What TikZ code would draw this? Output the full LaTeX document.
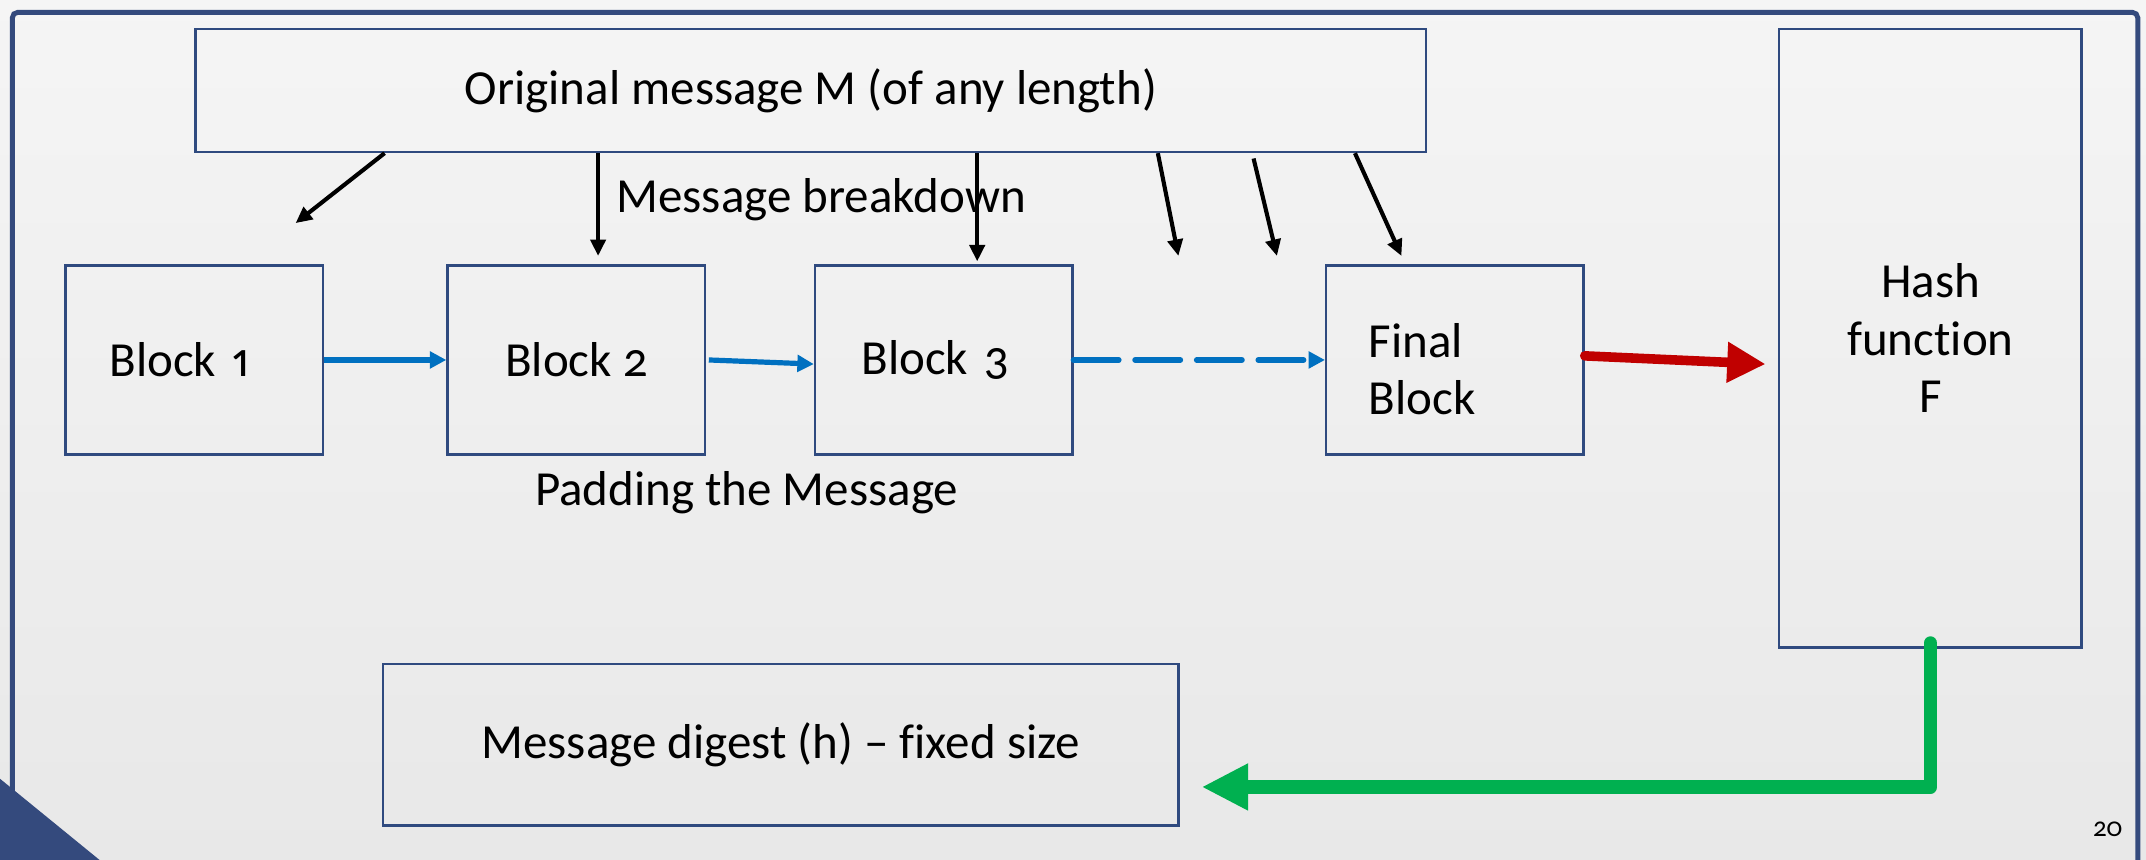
\documentclass[tikz,border=0pt]{standalone}
\usepackage{fontspec}
\setmainfont{Carlito}[Numbers={OldStyle,Proportional},Ligatures=NoCommon]
\usetikzlibrary{arrows.meta}
\definecolor{navy}{RGB}{52,74,125}
\definecolor{boxblue}{RGB}{47,74,127}
\definecolor{flowblue}{RGB}{0,112,192}
\definecolor{hashred}{RGB}{192,0,0}
\definecolor{digestgreen}{RGB}{0,176,80}
\begin{document}
\begin{tikzpicture}[x=0.5pt,y=-0.5pt,
  txt/.style={font=\fontsize{17.9}{21}\selectfont},
  box/.style={txt, draw=boxblue, line width=0.9pt, inner ysep=0pt},
  blk/.style={box, minimum width=94pt, minimum height=69pt},
  brk/.style={black, line width=1.5pt, -{Triangle[length=6pt,width=5.5pt]}},
  flow/.style={flowblue, line width=1.9pt, -{Triangle[length=6pt,width=6pt]}}]
  % page background
  \shade[top color=black!4, bottom color=black!9] (0,0) rectangle (1568,628);
  \useasboundingbox (0,0) rectangle (1568,628);
  % slide frame and corner mark
  \draw[navy, line width=1.8pt, rounded corners=2pt] (9,660) -- (9,9) -- (1562,9) -- (1562,660);
  \fill[navy] (0,569) -- (76,631) -- (0,631) -- cycle;
  \node[font=\fontsize{10}{12}\selectfont] (pg) at (1540,606) {20};

  % boxes
  \node[box, minimum width=449.5pt, minimum height=45pt] (top) at (592.5,66) {Original message M (of any length)};
  \node[blk, text width=62pt, inner xsep=16pt, align=left] (b1) at (142,263) {Block 1};
  \node[blk, inner xsep=0pt] (b2) at (421,263) {Block 2};
  \node[blk, text width=60pt, inner xsep=17pt, align=left] (b3) at (689.5,263) {Block 3};
  \node[blk, text width=63pt, inner xsep=15.5pt, align=left] (fin) at (1063,263) {\rule{0pt}{19pt}Final\\Block};
  \node[box, minimum width=110.5pt, minimum height=226pt, align=center] (hash) at (1410.5,247) {Hash\\function\\F};
  \node[box, minimum width=290.5pt, minimum height=59pt] (digest) at (570.5,544) {Message digest (h) -- fixed size};

  % labels
  \node[txt] (lbreak) at (600,146) {Message breakdown};
  \node[txt] (lpad) at (545.5,360) {Padding the Message};

  % breakdown arrows
  \coordinate (e1) at (216,163);
  \coordinate (e2) at (437,187);
  \coordinate (e3) at (714,191);
  \coordinate (e4) at (861,187);
  \coordinate (e5) at (933,187);
  \coordinate (e6) at (1024,187);
  \draw[brk] (281,0 |- top.south) -- (e1);
  \draw[brk] (437,0 |- top.south) -- (e2);
  \draw[brk] (714,0 |- top.south) -- (e3);
  \draw[brk] (846,0 |- top.south) -- (e4);
  \draw[brk, shorten <=2pt] (915,0 |- top.south) -- (e5);
  \draw[brk] (990,0 |- top.south) -- (e6);

  % chaining arrows
  \draw[flow] (b1.east) -- (b2.west);
  \draw[flow] ([xshift=1pt]b2.east) -- ([yshift=-1.5pt]b3.west);
  \draw[flow, line width=2.1pt, dash pattern=on 16.5pt off 6pt, line cap=round] (b3.east) -- (fin.west |- b3.east);

  % into the hash function
  \coordinate (rtip) at (1290,266);
  \draw[hashred, line width=3.5pt, line cap=round, -{Triangle[length=14pt,width=14pt]}] ([yshift=1.5pt]fin.east) -- (rtip);

  % digest output
  \coordinate (gtip) at (878,575);
  \draw[digestgreen, line width=5pt, line cap=round, line join=round, -{Triangle[length=17pt,width=16pt]}]
    ([yshift=2pt]hash.south) -- (hash.south |- gtip) -- (gtip);
\end{tikzpicture}
\end{document}
